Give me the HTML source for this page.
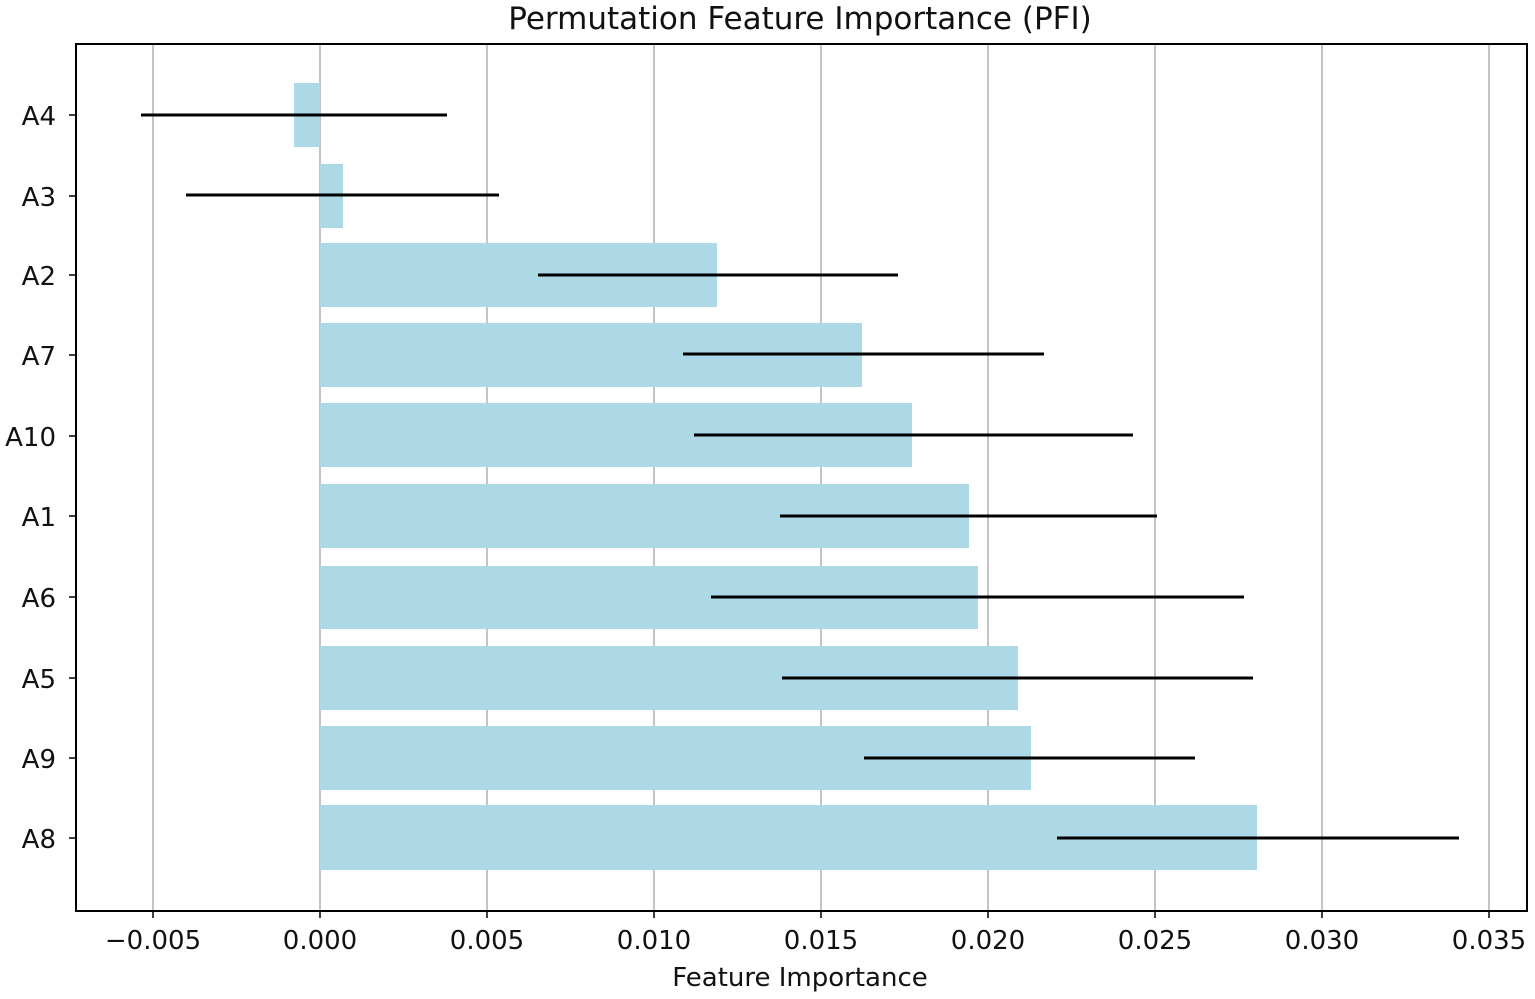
<!DOCTYPE html>
<html><head><meta charset="utf-8"><style>
html,body{margin:0;padding:0;background:#fff;}
svg{display:block;font-family:"DejaVu Sans","Liberation Sans",sans-serif;}
</style></head><body>
<svg width="1535" height="999" viewBox="0 0 1535 999" xmlns="http://www.w3.org/2000/svg">
<rect width="1535" height="999" fill="#fff"/>
<g stroke="#b0b0b0" stroke-width="1.5">
<line x1="153" y1="44" x2="153" y2="911"/>
<line x1="320" y1="44" x2="320" y2="911"/>
<line x1="487" y1="44" x2="487" y2="911"/>
<line x1="654" y1="44" x2="654" y2="911"/>
<line x1="821" y1="44" x2="821" y2="911"/>
<line x1="988" y1="44" x2="988" y2="911"/>
<line x1="1155" y1="44" x2="1155" y2="911"/>
<line x1="1322" y1="44" x2="1322" y2="911"/>
<line x1="1489" y1="44" x2="1489" y2="911"/>
</g>
<g fill="#add8e6">
<rect x="294" y="83" width="26" height="64"/>
<rect x="320" y="164" width="23" height="64"/>
<rect x="320" y="243" width="397" height="64"/>
<rect x="320" y="323" width="542" height="64"/>
<rect x="320" y="403" width="592" height="64"/>
<rect x="320" y="484" width="649" height="64"/>
<rect x="320" y="566" width="658" height="63"/>
<rect x="320" y="646" width="698" height="64"/>
<rect x="320" y="726" width="711" height="64"/>
<rect x="320" y="805" width="937" height="65"/>
</g>
<g stroke="#000" stroke-width="3">
<line x1="141" y1="115" x2="447" y2="115"/>
<line x1="186" y1="195" x2="499" y2="195"/>
<line x1="538" y1="275" x2="898" y2="275"/>
<line x1="683" y1="354" x2="1044" y2="354"/>
<line x1="694" y1="435" x2="1133" y2="435"/>
<line x1="780" y1="516" x2="1157" y2="516"/>
<line x1="711" y1="597" x2="1244" y2="597"/>
<line x1="782" y1="678" x2="1253" y2="678"/>
<line x1="864" y1="758" x2="1195" y2="758"/>
<line x1="1057" y1="838" x2="1459" y2="838"/>
</g>
<rect x="76" y="44" width="1451" height="867" fill="none" stroke="#000" stroke-width="2"/>
<g stroke="#000" stroke-width="1.5">
<line x1="153" y1="911" x2="153" y2="918"/><line x1="320" y1="911" x2="320" y2="918"/>
<line x1="487" y1="911" x2="487" y2="918"/><line x1="654" y1="911" x2="654" y2="918"/>
<line x1="821" y1="911" x2="821" y2="918"/><line x1="988" y1="911" x2="988" y2="918"/>
<line x1="1155" y1="911" x2="1155" y2="918"/><line x1="1322" y1="911" x2="1322" y2="918"/>
<line x1="1489" y1="911" x2="1489" y2="918"/>
<line x1="69" y1="115" x2="76" y2="115"/><line x1="69" y1="196" x2="76" y2="196"/>
<line x1="69" y1="275" x2="76" y2="275"/><line x1="69" y1="355" x2="76" y2="355"/>
<line x1="69" y1="436" x2="76" y2="436"/><line x1="69" y1="516" x2="76" y2="516"/>
<line x1="69" y1="597" x2="76" y2="597"/><line x1="69" y1="678" x2="76" y2="678"/>
<line x1="69" y1="758" x2="76" y2="758"/><line x1="69" y1="838" x2="76" y2="838"/>
</g>
<g font-size="26" fill="#111" text-anchor="middle">
<text x="153" y="949">−0.005</text><text x="320" y="949">0.000</text>
<text x="487" y="949">0.005</text><text x="654" y="949">0.010</text>
<text x="821" y="949">0.015</text><text x="988" y="949">0.020</text>
<text x="1155" y="949">0.025</text><text x="1322" y="949">0.030</text>
<text x="1489" y="949">0.035</text>
</g>
<g font-size="26" fill="#111" text-anchor="end">
<text x="56" y="125">A4</text><text x="56" y="206">A3</text>
<text x="56" y="285">A2</text><text x="56" y="365">A7</text>
<text x="56" y="446">A10</text><text x="56" y="526">A1</text>
<text x="56" y="607">A6</text><text x="56" y="688">A5</text>
<text x="56" y="768">A9</text><text x="56" y="848">A8</text>
</g>
<text x="800" y="986" font-size="26" fill="#111" text-anchor="middle">Feature Importance</text>
<text x="800" y="29" font-size="31" fill="#111" text-anchor="middle">Permutation Feature Importance (PFI)</text>
</svg>
</body></html>
